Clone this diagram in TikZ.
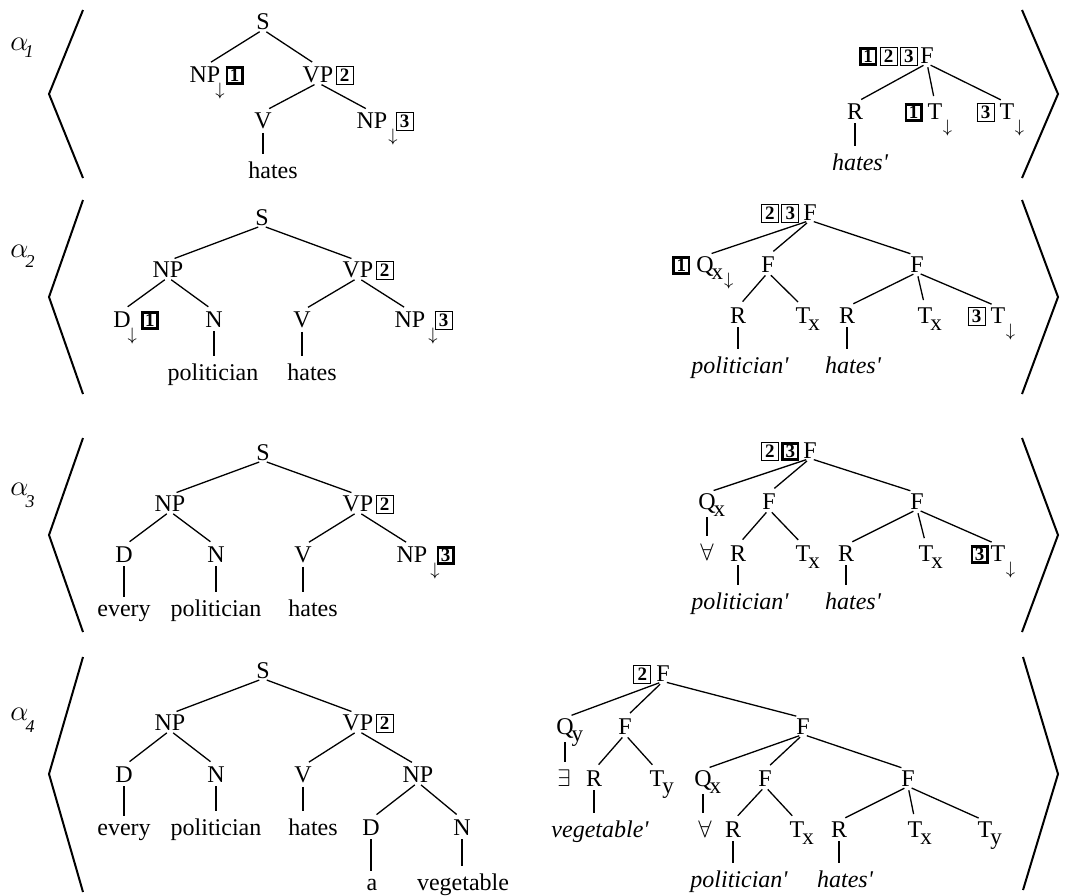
\documentclass[tikz,border=0pt]{standalone}
\usepackage{fontspec}
\setmainfont{Liberation Serif}
\newcommand\atR[1]{\rlap{\smash{#1}}}
\newcommand\atL[1]{\llap{\smash{#1}}}
\newcommand\dn{\raisebox{-6.6pt}{\fontsize{9}{9}\selectfont$\downarrow$}}
\newcommand\sx[1]{\raisebox{-3.5pt}{\fontsize{11.5}{11.5}\selectfont #1}}
\newcommand\bx[1]{{\setlength\fboxsep{0pt}\setlength\fboxrule{0.5pt}\fbox{\makebox[8pt]{\rule[-0.8pt]{0pt}{8.2pt}\raisebox{0.1pt}{\fontsize{9.5}{9.5}\selectfont\bfseries #1}}}}}
\newcommand\tbx[1]{{\setlength\fboxsep{0pt}\setlength\fboxrule{1.3pt}\fbox{\makebox[6.4pt]{\rule{0pt}{6.6pt}\raisebox{0.1pt}{\fontsize{9.5}{9.5}\selectfont\bfseries #1}}}}}
\newcommand\alab[3]{$\alpha$\kern#1\raisebox{#2}{\fontsize{9}{9}\selectfont\itshape #3}}
\newcommand\pr{\textquotesingle}
\begin{document}
\begin{tikzpicture}[x=0.5pt,y=-0.5pt,
  lab/.style={inner sep=0pt, anchor=base, font=\fontsize{12}{14}\selectfont},
  ilab/.style={inner sep=0pt, anchor=base, font=\fontsize{12}{14}\selectfont\itshape},
  qnt/.style={inner sep=0pt, anchor=base, font=\fontsize{11.5}{13}\selectfont},
  albl/.style={inner sep=0pt, anchor=base west, font=\fontsize{14}{16}\selectfont},
  edge/.style={line width=0.65pt, shorten <=2pt, shorten >=3.5pt},
  brk/.style={line width=1pt}]
\useasboundingbox (0,0) rectangle (1068,895);

% ---------------- brackets and alpha labels
\draw[brk] (83,10) -- (49,94) -- (83,178);
\draw[brk] (1022,10) -- (1058,94) -- (1022,178);
\draw[brk] (83,200) -- (49,297) -- (83,394);
\draw[brk] (1022,200) -- (1058,297) -- (1022,394);
\draw[brk] (83,438) -- (49,535) -- (83,632);
\draw[brk] (1022,438) -- (1058,535) -- (1022,632);
\draw[brk] (83,657) -- (49,774) -- (83,892);
\draw[brk] (1023,657) -- (1058,774) -- (1023,890);
\node[albl] (al1) at (10,50) {\alab{-2pt}{-3.5pt}{1}};
\node[albl] (al2) at (10,257) {\alab{-1.5pt}{-5pt}{2}};
\node[albl] (al3) at (10,495) {\alab{-1.5pt}{-6pt}{3}};
\node[albl] (al4) at (10,720) {\alab{-1.5pt}{-6pt}{4}};

% ================= ROW 1
\node[lab] (aS) at (263,29) {S};
\node[lab] (aNP) at (205,82) {NP\atR{\kern-2.5pt\dn\kern0.5pt\tbx{1}}};
\node[lab] (aVP) at (318,82) {VP\atR{\kern1.2pt\bx{2}}};
\node[lab] (aV) at (263,128) {V};
\node[lab] (aNPb) at (372,128) {NP\atR{\kern0.5pt\dn\kern-1pt\bx{3}}};
\node[lab] (ahates) at (273,178) {hates};
\draw[edge] (aS.south) -- (aNP.north);
\draw[edge] (aS.south) -- (aVP.north);
\draw[edge] (aVP.south) -- (aV.north);
\draw[edge] (aVP.south) -- (aNPb.north);
\draw[edge] (aV.south) -- (aV.south |- ahates.north);

\node[lab] (aF) at (927,63) {\atL{\tbx{1}\kern1.2pt\bx{2}\kern1.2pt\bx{3}\kern1.2pt}F};
\node[lab] (aR) at (855,119) {R};
\node[lab] (aT1) at (935,119) {\atL{\tbx{1}\kern2.5pt}T\atR{\kern0.3pt\dn}};
\node[lab] (aT3) at (1007,119) {\atL{\bx{3}\kern2.5pt}T\atR{\kern0.3pt\dn}};
\node[ilab] (ahp) at (860,170) {hates\pr};
\draw[edge] (aF.south) -- (aR.north);
\draw[edge] (aF.south) -- (aT1.north);
\draw[edge] (aF.south) -- (aT3.north);
\draw[edge] (aR.south) -- (aR.south |- ahp.north);

% ================= ROW 2
\node[lab] (bS) at (262,225) {S};
\node[lab] (bNP) at (168,277) {NP};
\node[lab] (bVP) at (358,277) {VP\atR{\kern1.2pt\bx{2}}};
\node[lab] (bD) at (122,327) {D\atR{\kern-1.5pt\dn\kern2pt\tbx{1}}};
\node[lab] (bN) at (214,327) {N};
\node[lab] (bV) at (302,327) {V};
\node[lab] (bNPb) at (410,327) {NP\atR{\kern1.5pt\dn\kern-1.5pt\bx{3}}};
\node[lab] (bpol) at (213,380) {politician};
\node[lab] (bhates) at (312,380) {hates};
\draw[edge] (bS.south) -- (bNP.north);
\draw[edge] (bS.south) -- (bVP.north);
\draw[edge] (bNP.south) -- (bD.north);
\draw[edge] (bNP.south) -- (bN.north);
\draw[edge] (bVP.south) -- (bV.north);
\draw[edge] (bVP.south) -- (bNPb.north);
\draw[edge] (bN.south) -- (bN.south |- bpol.north);
\draw[edge] (bV.south) -- (bV.south |- bhates.north);

\node[lab] (bF) at (810,220) {\atL{\bx{2}\kern1.2pt\bx{3}\kern2pt}F};
\node[lab] (bQ) at (705,272) {\atL{\tbx{1}\kern3pt}Q\atR{\kern-1pt\sx{x}\kern0.5pt\dn}};
\node[lab] (bF2) at (768,272) {F};
\node[lab] (bF3) at (917,272) {F};
\node[lab] (bR1) at (738,323) {R};
\node[lab] (bT1) at (803,323) {T\atR{\kern-1pt\sx{x}}};
\node[lab] (bR2) at (847,323) {R};
\node[lab] (bT2) at (925,323) {T\atR{\kern-1pt\sx{x}}};
\node[lab] (bT3) at (998,323) {\atL{\bx{3}\kern2.5pt}T\atR{\kern0.3pt\dn}};
\node[ilab] (bpp) at (740,373) {politician\pr};
\node[ilab] (bhp) at (853,373) {hates\pr};
\draw[edge] (bF.south) -- (bQ.north);
\draw[edge] (bF.south) -- (bF2.north);
\draw[edge] (bF.south) -- (bF3.north);
\draw[edge] (bF2.south) -- (bR1.north);
\draw[edge] (bF2.south) -- (bT1.north);
\draw[edge] (bF3.south) -- (bR2.north);
\draw[edge] (bF3.south) -- (bT2.north);
\draw[edge] (bF3.south) -- (bT3.north);
\draw[edge] (bR1.south) -- (bR1.south |- bpp.north);
\draw[edge] (bR2.south) -- (bR2.south |- bhp.north);

% ================= ROW 3
\node[lab] (cS) at (263,460) {S};
\node[lab] (cNP) at (170,511) {NP};
\node[lab] (cVP) at (358,511) {VP\atR{\kern1.2pt\bx{2}}};
\node[lab] (cD) at (124,562) {D};
\node[lab] (cN) at (216,562) {N};
\node[lab] (cV) at (303,562) {V};
\node[lab] (cNPb) at (412,562) {NP\atR{\kern1.5pt\dn\kern-1.5pt\tbx{3}}};
\node[lab] (cevery) at (124,616) {every};
\node[lab] (cpol) at (216,616) {politician};
\node[lab] (chates) at (313,616) {hates};
\draw[edge] (cS.south) -- (cNP.north);
\draw[edge] (cS.south) -- (cVP.north);
\draw[edge] (cNP.south) -- (cD.north);
\draw[edge] (cNP.south) -- (cN.north);
\draw[edge] (cVP.south) -- (cV.north);
\draw[edge] (cVP.south) -- (cNPb.north);
\draw[edge] (cD.south) -- (cD.south |- cevery.north);
\draw[edge] (cN.south) -- (cN.south |- cpol.north);
\draw[edge] (cV.south) -- (cV.south |- chates.north);

\node[lab] (cF) at (810,458) {\atL{\bx{2}\kern1.2pt\tbx{3}\kern2pt}F};
\node[lab] (cQ) at (707,509) {Q\atR{\kern-1pt\sx{x}}};
\node[lab] (cF2) at (769,509) {F};
\node[lab] (cF3) at (917,509) {F};
\node[qnt] (call) at (707,560) {$\forall$};
\node[lab] (cR1) at (738,561) {R};
\node[lab] (cT1) at (803,561) {T\atR{\kern-1pt\sx{x}}};
\node[lab] (cR2) at (846,561) {R};
\node[lab] (cT2) at (926,561) {T\atR{\kern-1pt\sx{x}}};
\node[lab] (cT3) at (998,561) {\atL{\tbx{3}\kern1pt}T\atR{\kern0.3pt\dn}};
\node[ilab] (cpp) at (740,609) {politician\pr};
\node[ilab] (chp) at (853,609) {hates\pr};
\draw[edge] (cF.south) -- (cQ.north);
\draw[edge] (cF.south) -- (cF2.north);
\draw[edge] (cF.south) -- (cF3.north);
\draw[edge] (cQ.south) -- (cQ.south |- call.north);
\draw[edge] (cF2.south) -- (cR1.north);
\draw[edge] (cF2.south) -- (cT1.north);
\draw[edge] (cF3.south) -- (cR2.north);
\draw[edge] (cF3.south) -- (cT2.north);
\draw[edge] (cF3.south) -- (cT3.north);
\draw[edge] (cR1.south) -- (cR1.south |- cpp.north);
\draw[edge] (cR2.south) -- (cR2.south |- chp.north);

% ================= ROW 4
\node[lab] (dS) at (263,678) {S};
\node[lab] (dNP) at (170,730) {NP};
\node[lab] (dVP) at (358,730) {VP\atR{\kern1.2pt\bx{2}}};
\node[lab] (dD) at (124,782) {D};
\node[lab] (dN) at (216,782) {N};
\node[lab] (dV) at (303,782) {V};
\node[lab] (dNPb) at (418,782) {NP};
\node[lab] (devery) at (124,835) {every};
\node[lab] (dpol) at (216,835) {politician};
\node[lab] (dhates) at (313,835) {hates};
\node[lab] (dD2) at (371,835) {D};
\node[lab] (dN2) at (462,835) {N};
\node[lab] (da) at (372,890) {a};
\node[lab] (dveg) at (463,890) {vegetable};
\draw[edge] (dS.south) -- (dNP.north);
\draw[edge] (dS.south) -- (dVP.north);
\draw[edge] (dNP.south) -- (dD.north);
\draw[edge] (dNP.south) -- (dN.north);
\draw[edge] (dVP.south) -- (dV.north);
\draw[edge] (dVP.south) -- (dNPb.north);
\draw[edge] (dD.south) -- (dD.south |- devery.north);
\draw[edge] (dN.south) -- (dN.south |- dpol.north);
\draw[edge] (dV.south) -- (dV.south |- dhates.north);
\draw[edge] (dNPb.south) -- (dD2.north);
\draw[edge] (dNPb.south) -- (dN2.north);
\draw[edge] (dD2.south) -- (dD2.south |- da.north);
\draw[edge] (dN2.south) -- (dN2.south |- dveg.north);

\node[lab] (dF) at (663,681) {\atL{\bx{2}\kern2.5pt}F};
\node[lab] (dQy) at (565,734) {Q\atR{\kern-1pt\sx{y}}};
\node[lab] (dF2) at (625,734) {F};
\node[lab] (dF3) at (803,734) {F};
\node[qnt] (dex) at (564,786) {$\exists$};
\node[lab] (dR1) at (594,786) {R};
\node[lab] (dTy) at (657,786) {T\atR{\kern-1pt\sx{y}}};
\node[lab] (dQx) at (703,786) {Q\atR{\kern-1pt\sx{x}}};
\node[lab] (dF4) at (765,786) {F};
\node[lab] (dF5) at (908,786) {F};
\node[ilab] (dvp) at (600,837) {vegetable\pr};
\node[qnt] (dall) at (705,837) {$\forall$};
\node[lab] (dR2) at (733,837) {R};
\node[lab] (dTx1) at (797,837) {T\atR{\kern-1pt\sx{x}}};
\node[lab] (dR3) at (839,837) {R};
\node[lab] (dTx2) at (915,837) {T\atR{\kern-1pt\sx{x}}};
\node[lab] (dTy2) at (985,837) {T\atR{\kern-1pt\sx{y}}};
\node[ilab] (dpp) at (739,887) {politician\pr};
\node[ilab] (dhp) at (845,887) {hates\pr};
\draw[edge] (dF.south) -- (dQy.north);
\draw[edge] (dF.south) -- (dF2.north);
\draw[edge] (dF.south) -- (dF3.north);
\draw[edge] (dQy.south) -- (dQy.south |- dex.north);
\draw[edge] (dF2.south) -- (dR1.north);
\draw[edge] (dF2.south) -- (dTy.north);
\draw[edge] (dR1.south) -- (dR1.south |- dvp.north);
\draw[edge] (dF3.south) -- (dQx.north);
\draw[edge] (dF3.south) -- (dF4.north);
\draw[edge] (dF3.south) -- (dF5.north);
\draw[edge] (dQx.south) -- (dQx.south |- dall.north);
\draw[edge] (dF4.south) -- (dR2.north);
\draw[edge] (dF4.south) -- (dTx1.north);
\draw[edge] (dF5.south) -- (dR3.north);
\draw[edge] (dF5.south) -- (dTx2.north);
\draw[edge] (dF5.south) -- (dTy2.north);
\draw[edge] (dR2.south) -- (dR2.south |- dpp.north);
\draw[edge] (dR3.south) -- (dR3.south |- dhp.north);
\end{tikzpicture}
\end{document}
